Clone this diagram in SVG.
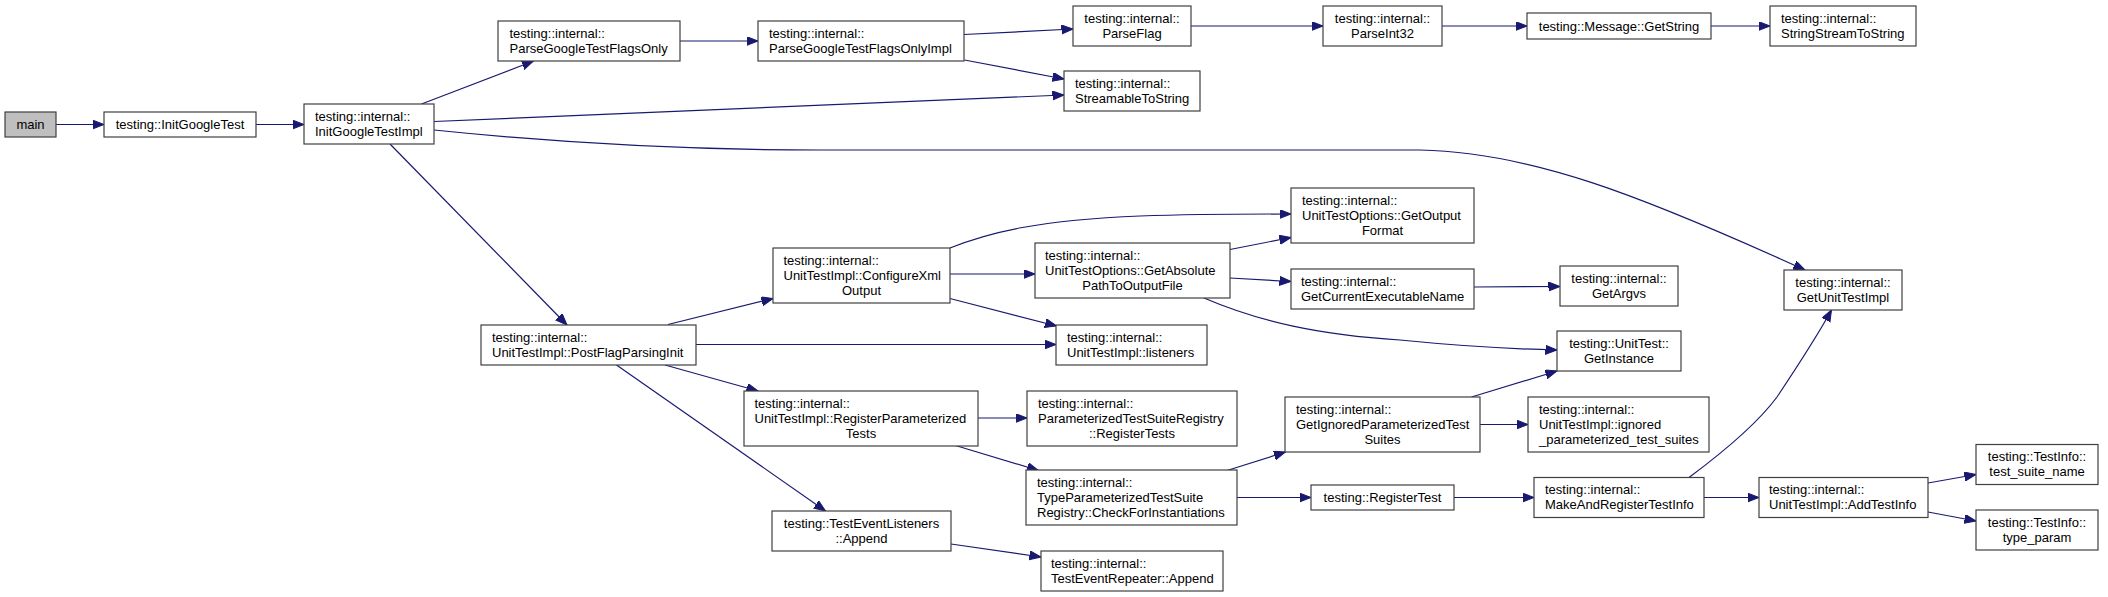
<svg xmlns="http://www.w3.org/2000/svg" width="2108" height="597" viewBox="0 0 2108 597">
<style>
.n rect{fill:#ffffff;stroke:#404040;stroke-width:1.2}
.n.root rect{fill:#bfbfbf}
text{font-family:"Liberation Sans",Arial,sans-serif;font-size:13px;fill:#000}
.c{text-anchor:middle}
.e path{fill:none;stroke:#191970;stroke-width:1.2;marker-end:url(#arr)}
</style>
<defs>
<marker id="arr" markerWidth="13" markerHeight="10" refX="11.5" refY="4.5" orient="auto" markerUnits="userSpaceOnUse">
<path d="M0,0 L11.5,4.5 L0,9 z" fill="#191970" stroke="#191970" stroke-width="1"/>
</marker>
</defs>
<rect width="2108" height="597" fill="#ffffff"/>
<g id="edges" class="e">
<path d="M56,124.5 L104,124.5"/>
<path d="M256,124.5 L304,124.5"/>
<path d="M421.5,104 L533.5,61"/>
<path d="M434,121.5 L1064,95"/>
<path d="M434,130 C560,143 680,150 820,150 L1420,150 C1530,152 1640,195 1805,270"/>
<path d="M390,144 L567,325"/>
<path d="M680,41 L758,41"/>
<path d="M964,34.5 L1073,29"/>
<path d="M964.5,60 L1064,79"/>
<path d="M1191,26 L1323,26"/>
<path d="M1442,26 L1527,26"/>
<path d="M1711,26 L1770,26"/>
<path d="M668,324.5 L773,298.5"/>
<path d="M696,344.5 L1056,344.5"/>
<path d="M665,365 L758,391"/>
<path d="M616.5,365 L825.5,511"/>
<path d="M950,248 C990,232 1040,220 1140,216 C1200,214 1250,214 1291,214"/>
<path d="M950,274 L1035,274"/>
<path d="M950,298.5 L1056.5,326"/>
<path d="M1230,249.5 L1291,237.5"/>
<path d="M1230,278 L1291,281.5"/>
<path d="M1204,298 C1260,322 1320,335 1400,340 C1460,346 1510,349 1557,350"/>
<path d="M1474,287 L1560,286.5"/>
<path d="M978,418 L1027,418"/>
<path d="M955.5,445.5 L1038.5,470.5"/>
<path d="M1227,470.5 L1285.5,452"/>
<path d="M1237,497.5 L1311,497.5"/>
<path d="M951,544 L1041,557"/>
<path d="M1480,424.5 L1528,424.5"/>
<path d="M1471.5,397 L1557,371"/>
<path d="M1454,497.5 L1534,497.5"/>
<path d="M1689,477.5 C1730,447 1760,420 1777,397 C1795,370 1815,340 1831.5,310"/>
<path d="M1704,497.5 L1759,497.5"/>
<path d="M1928,483 L1976,474.5"/>
<path d="M1928,512 L1976,521"/>
</g>
<g id="main" class="n root"><rect x="5" y="112" width="51" height="25"/><text class="c" x="30.5" y="129">main</text></g>
<g id="InitGoogleTest" class="n"><rect x="104" y="112" width="152" height="25"/><text class="c" x="180" y="129">testing::InitGoogleTest</text></g>
<g id="InitGoogleTestImpl" class="n"><rect x="304" y="104" width="130" height="40"/><text x="315" y="120.5">testing::internal::</text><text x="315" y="135.5">InitGoogleTestImpl</text></g>
<g id="ParseGoogleTestFlagsOnly" class="n"><rect x="498" y="21" width="182" height="40"/><text x="509.5" y="37.5">testing::internal::</text><text x="509.5" y="52.5">ParseGoogleTestFlagsOnly</text></g>
<g id="ParseGoogleTestFlagsOnlyImpl" class="n"><rect x="758" y="21" width="206" height="40"/><text x="769" y="37.5">testing::internal::</text><text x="769" y="52.5">ParseGoogleTestFlagsOnlyImpl</text></g>
<g id="ParseFlag" class="n"><rect x="1073" y="6" width="118" height="40"/><text class="c" x="1132" y="22.5">testing::internal::</text><text class="c" x="1132" y="37.5">ParseFlag</text></g>
<g id="StreamableToString" class="n"><rect x="1064" y="71" width="136" height="40"/><text x="1075" y="87.5">testing::internal::</text><text x="1075" y="102.5">StreamableToString</text></g>
<g id="ParseInt32" class="n"><rect x="1323" y="6" width="119" height="40"/><text class="c" x="1382.5" y="22.5">testing::internal::</text><text class="c" x="1382.5" y="37.5">ParseInt32</text></g>
<g id="MessageGetString" class="n"><rect x="1527" y="13" width="184" height="26"/><text class="c" x="1619" y="30.5">testing::Message::GetString</text></g>
<g id="StringStreamToString" class="n"><rect x="1770" y="6" width="146" height="40"/><text x="1781" y="22.5">testing::internal::</text><text x="1781" y="37.5">StringStreamToString</text></g>
<g id="PostFlagParsingInit" class="n"><rect x="481" y="325" width="215" height="40"/><text x="492" y="341.5">testing::internal::</text><text x="492" y="356.5">UnitTestImpl::PostFlagParsingInit</text></g>
<g id="ConfigureXmlOutput" class="n"><rect x="773" y="248" width="177" height="55"/><text x="783.5" y="264.5">testing::internal::</text><text x="783.5" y="279.5">UnitTestImpl::ConfigureXml</text><text class="c" x="861.5" y="294.5">Output</text></g>
<g id="GetAbsolutePathToOutputFile" class="n"><rect x="1035" y="243" width="195" height="55"/><text x="1045" y="259.5">testing::internal::</text><text x="1045" y="274.5">UnitTestOptions::GetAbsolute</text><text class="c" x="1132.5" y="289.5">PathToOutputFile</text></g>
<g id="listeners" class="n"><rect x="1056" y="325" width="151" height="40"/><text x="1067" y="341.5">testing::internal::</text><text x="1067" y="356.5">UnitTestImpl::listeners</text></g>
<g id="GetOutputFormat" class="n"><rect x="1291" y="188" width="183" height="55"/><text x="1302" y="204.5">testing::internal::</text><text x="1302" y="219.5">UnitTestOptions::GetOutput</text><text class="c" x="1382.5" y="234.5">Format</text></g>
<g id="GetCurrentExecutableName" class="n"><rect x="1291" y="269" width="183" height="40"/><text x="1301" y="285.5">testing::internal::</text><text x="1301" y="300.5">GetCurrentExecutableName</text></g>
<g id="GetArgvs" class="n"><rect x="1560" y="266" width="118" height="40"/><text class="c" x="1619" y="282.5">testing::internal::</text><text class="c" x="1619" y="297.5">GetArgvs</text></g>
<g id="GetInstance" class="n"><rect x="1557" y="331" width="124" height="40"/><text class="c" x="1619" y="347.5">testing::UnitTest::</text><text class="c" x="1619" y="362.5">GetInstance</text></g>
<g id="GetUnitTestImpl" class="n"><rect x="1784" y="270" width="118" height="40"/><text class="c" x="1843" y="286.5">testing::internal::</text><text class="c" x="1843" y="301.5">GetUnitTestImpl</text></g>
<g id="RegisterParameterizedTests" class="n"><rect x="744" y="391" width="234" height="55"/><text x="754.5" y="407.5">testing::internal::</text><text x="754.5" y="422.5">UnitTestImpl::RegisterParameterized</text><text class="c" x="861" y="437.5">Tests</text></g>
<g id="RegisterTests" class="n"><rect x="1027" y="391" width="210" height="55"/><text x="1038" y="407.5">testing::internal::</text><text x="1038" y="422.5">ParameterizedTestSuiteRegistry</text><text class="c" x="1132" y="437.5">::RegisterTests</text></g>
<g id="GetIgnoredParameterizedTestSuites" class="n"><rect x="1285" y="397" width="195" height="55"/><text x="1296" y="413.5">testing::internal::</text><text x="1296" y="428.5">GetIgnoredParameterizedTest</text><text class="c" x="1382.5" y="443.5">Suites</text></g>
<g id="ignored_parameterized_test_suites" class="n"><rect x="1528" y="397" width="181" height="55"/><text x="1539" y="413.5">testing::internal::</text><text x="1539" y="428.5">UnitTestImpl::ignored</text><text x="1539" y="443.5">_parameterized_test_suites</text></g>
<g id="CheckForInstantiations" class="n"><rect x="1026" y="470" width="211" height="55"/><text x="1037" y="486.5">testing::internal::</text><text x="1037" y="501.5">TypeParameterizedTestSuite</text><text x="1037" y="516.5">Registry::CheckForInstantiations</text></g>
<g id="RegisterTest" class="n"><rect x="1311" y="485" width="143" height="25"/><text class="c" x="1382.5" y="502">testing::RegisterTest</text></g>
<g id="TestEventListenersAppend" class="n"><rect x="772" y="511" width="179" height="40"/><text class="c" x="861.5" y="527.5">testing::TestEventListeners</text><text class="c" x="861.5" y="542.5">::Append</text></g>
<g id="TestEventRepeaterAppend" class="n"><rect x="1041" y="551" width="182" height="40"/><text x="1051" y="567.5">testing::internal::</text><text x="1051" y="582.5">TestEventRepeater::Append</text></g>
<g id="MakeAndRegisterTestInfo" class="n"><rect x="1534" y="477.5" width="170" height="40"/><text x="1545" y="494">testing::internal::</text><text x="1545" y="509">MakeAndRegisterTestInfo</text></g>
<g id="AddTestInfo" class="n"><rect x="1759" y="477.5" width="169" height="40"/><text x="1769" y="494">testing::internal::</text><text x="1769" y="509">UnitTestImpl::AddTestInfo</text></g>
<g id="test_suite_name" class="n"><rect x="1976" y="444.5" width="122" height="40"/><text class="c" x="2037" y="461">testing::TestInfo::</text><text class="c" x="2037" y="476">test_suite_name</text></g>
<g id="type_param" class="n"><rect x="1976" y="510" width="122" height="40"/><text class="c" x="2037" y="526.5">testing::TestInfo::</text><text class="c" x="2037" y="541.5">type_param</text></g>
</svg>
